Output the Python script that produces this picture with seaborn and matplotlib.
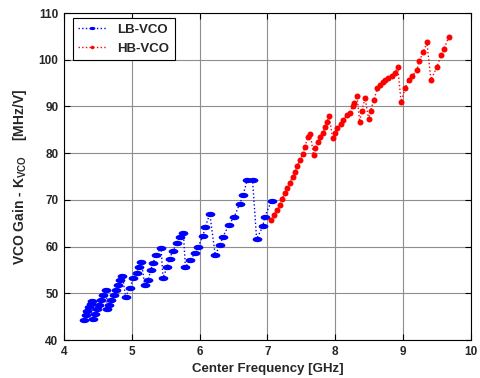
import numpy as np
import matplotlib
matplotlib.use("Agg")
import matplotlib.pyplot as plt
import seaborn as sns

# ── Data ──────────────────────────────────────────────────────────────────────
lb_freq = [4.29, 4.32, 4.34, 4.37, 4.40, 4.42,
           4.43, 4.46, 4.49, 4.52, 4.55, 4.58, 4.62,
           4.64, 4.67, 4.70, 4.73, 4.76, 4.80, 4.83, 4.86,
           4.91, 4.97, 5.02, 5.07, 5.10, 5.14,
           5.19, 5.24, 5.28, 5.31, 5.36, 5.43,
           5.46, 5.52, 5.56, 5.60, 5.67, 5.71, 5.76,
           5.79, 5.86, 5.93, 5.98, 6.05, 6.08, 6.15,
           6.23, 6.30, 6.34, 6.43, 6.51, 6.59, 6.64, 6.70, 6.78,
           6.84, 6.93, 6.96, 7.06]
lb_kvco = [44.2, 45.3, 46.2, 47.0, 47.8, 48.3,
           44.6, 45.6, 46.6, 47.5, 48.6, 49.6, 50.7,
           46.6, 47.6, 48.6, 49.6, 50.6, 51.8, 52.8, 53.8,
           49.2, 51.1, 53.2, 54.4, 55.6, 56.8,
           51.8, 52.8, 55.0, 56.4, 58.2, 59.8,
           53.3, 55.6, 57.4, 59.0, 60.8, 62.1, 63.0,
           55.6, 57.1, 58.6, 60.0, 62.3, 64.1, 67.0,
           58.2, 60.3, 62.0, 64.6, 66.4, 69.1, 71.0, 74.2, 74.2,
           61.6, 64.3, 66.4, 69.8]

hb_freq = [7.05, 7.09, 7.14, 7.18, 7.21, 7.26, 7.29, 7.33, 7.37, 7.41, 7.44, 7.48, 7.52, 7.55, 7.60, 7.63,
           7.68, 7.70, 7.74, 7.78, 7.82, 7.85, 7.88, 7.91,
           7.96, 8.00, 8.03, 8.08, 8.12, 8.17, 8.21, 8.26, 8.28, 8.32,
           8.36, 8.39, 8.44,
           8.49, 8.52, 8.57, 8.62, 8.66, 8.70, 8.73, 8.78, 8.83, 8.88, 8.92,
           8.97, 9.03, 9.08, 9.13, 9.20, 9.24, 9.30, 9.35,
           9.41, 9.50, 9.56, 9.60, 9.67]
hb_kvco = [65.7, 66.8, 67.8, 68.9, 70.1, 71.4, 72.5, 73.7, 75.0, 76.0, 77.3, 78.5, 79.8, 81.4, 83.5, 84.2,
           79.6, 81.0, 82.3, 83.4, 84.4, 85.7, 86.7, 88.0,
           83.2, 84.3, 85.3, 86.3, 87.1, 88.2, 88.7, 90.0, 90.8, 92.2,
           86.7, 89.1, 91.8,
           87.3, 89.1, 91.4, 93.9, 94.6, 95.3, 95.7, 96.0, 96.5, 97.2, 98.4,
           91.0, 93.9, 95.7, 96.5, 97.7, 99.8, 101.7, 103.7,
           95.7, 98.5, 101.0, 102.2, 104.8]

x_ticks = [4, 5, 6, 7, 8, 9, 10]
y_ticks = [40, 50, 60, 70, 80, 90, 100, 110]

# ── Style ─────────────────────────────────────────────────────────────────────
sns.set_theme(style="white")
plt.rcParams.update({
    "font.family": ["Liberation Sans", "DejaVu Sans"],
    "font.weight": "bold",
    "mathtext.fontset": "custom",
    "mathtext.rm": "Liberation Sans:bold",
    "mathtext.bf": "Liberation Sans:bold",
    "mathtext.it": "Liberation Sans:bold",
    "axes.edgecolor": "black",
    "axes.linewidth": 0.8,
})

# flat blob marker for the low band points
t = np.linspace(0, 2 * np.pi, 40)
blob = list(zip(np.cos(t), 0.55 * np.sin(t)))

fig = plt.figure(figsize=(4.8, 3.78), dpi=100)
ax = fig.add_axes([0.1333, 0.1005, 0.8479, 0.8651])

sns.lineplot(x=lb_freq, y=lb_kvco, sort=False, estimator=None, ax=ax,
             color="blue", linestyle=":", linewidth=1.0,
             marker=blob, markersize=7, markeredgewidth=0,
             markeredgecolor="blue", markerfacecolor="blue", label="LB-VCO")
sns.lineplot(x=hb_freq, y=hb_kvco, sort=False, estimator=None, ax=ax,
             color="red", linestyle=":", linewidth=1.0,
             marker="o", markersize=4.3, markeredgewidth=0,
             markeredgecolor="red", markerfacecolor="red", label="HB-VCO")

ax.set_xlim(4, 10)
ax.set_ylim(40, 110)
ax.set_xticks(x_ticks)
ax.set_yticks(y_ticks)
ax.grid(True, color="#8e8e8e", linewidth=0.8, linestyle="-")
ax.set_axisbelow(True)
ax.tick_params(which="major", direction="in", length=4, width=0.8, color="black",
               top=True, right=True, bottom=True, left=True, labelsize=8.5, pad=4)
for lab in ax.get_xticklabels() + ax.get_yticklabels():
    lab.set_fontweight("bold")
for sp in ax.spines.values():
    sp.set_visible(True)
    sp.set_color("black")

ax.set_xlabel("Center Frequency [GHz]", fontsize=9.5, fontweight="bold", labelpad=4)
ax.set_ylabel(r"VCO Gain - K$_{\mathbf{VCO}}$    [MHz/V]", fontsize=10,
              fontweight="bold", labelpad=7)

leg = ax.legend(loc="upper left", bbox_to_anchor=(0.021, 0.984), borderaxespad=0,
                fancybox=False, framealpha=1, edgecolor="black", handlelength=2.2,
                numpoints=1, markerscale=0.6, prop={"weight": "bold", "size": 9.5})
leg.get_frame().set_linewidth(0.8)

fig.savefig("out.png", dpi=100)
